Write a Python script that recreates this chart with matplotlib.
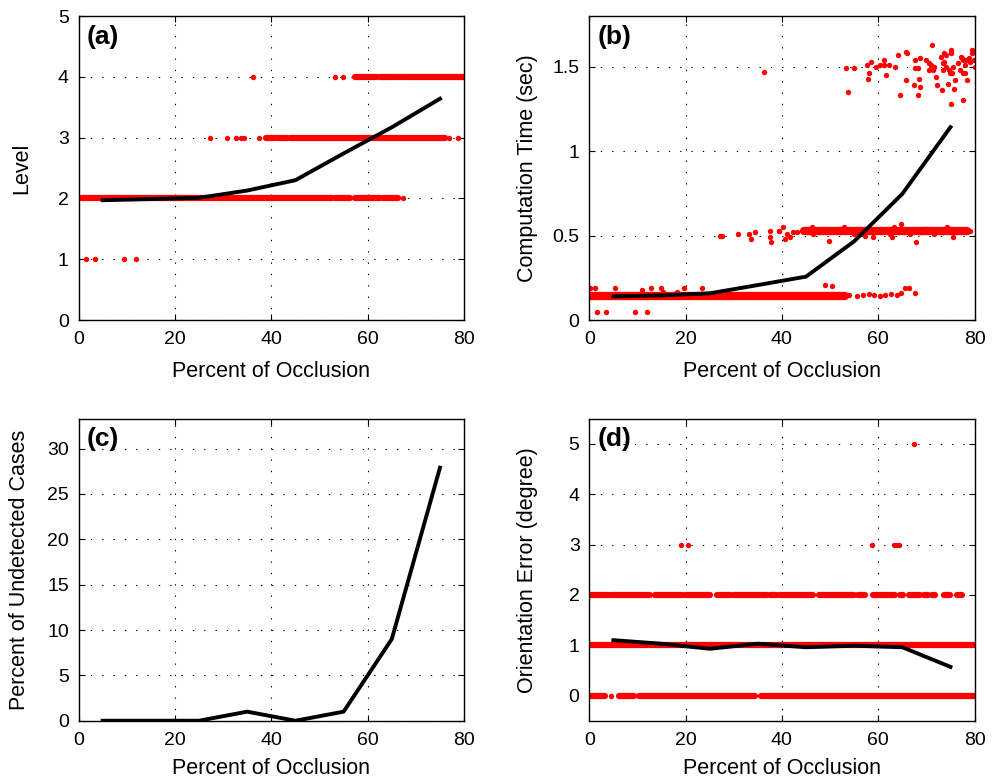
import numpy as np
import matplotlib
matplotlib.use('Agg')
import matplotlib.pyplot as plt

occlusion = [5, 15, 25, 35, 45, 55, 65, 75]
level_mean = [1.97, 1.99, 2.01, 2.13, 2.30, 2.74, 3.17, 3.64]
time_mean = [0.140, 0.146, 0.158, 0.207, 0.257, 0.466, 0.747, 1.142]
undetected = [0, 0, 0, 1.0, 0, 1.0, 9.0, 27.9]
orient_mean = [1.10, 1.03, 0.93, 1.03, 0.96, 0.99, 0.96, 0.57]

# (a) level: isolated dots and dense runs
level_dot_x = [1.6, 3.5, 9.5, 11.9, 67.3, 27.3, 30.8, 32.6, 33.7, 34.4, 37.5, 76.8, 78.8, 36.2, 53.2, 54.9]
level_dot_y = [1, 1, 1, 1, 2, 3, 3, 3, 3, 3, 3, 3, 3, 4, 4, 4]
level_run_y = [2, 2, 2, 2, 3, 3, 3, 4, 4, 4]
level_run_x0 = [0, 53.2, 57.3, 63.1, 39.0, 41.0, 43.9, 57.3, 62.6, 67.0]
level_run_x1 = [52.5, 56.3, 62.5, 66.3, 40.5, 43.2, 76.0, 62.0, 66.5, 80]

# (b) computation time
time_top_x = [53.3, 55.0, 53.7, 57.6, 58.5, 58.1, 57.8, 59.6, 60.4, 61.3, 61.3, 62.3, 61.7, 63.4, 64.2,
              65.7, 66.0, 64.6, 65.7, 67.6, 67.7, 68.2, 68.7, 68.4, 67.4, 68.6, 68.2, 70.0, 70.6, 71.1,
              70.9, 71.6, 71.4, 70.5, 72.0, 72.1, 73.0, 73.6, 74.1, 73.4, 73.7, 74.1, 73.4, 74.4, 73.2,
              74.7, 75.1, 75.2, 75.0, 75.4, 75.6, 75.9, 75.8, 75.2, 76.5, 77.2, 77.4, 77.7, 78.0, 77.0,
              77.5, 78.1, 78.5, 77.5, 78.8, 79.5, 79.5, 79.8, 80.0, 79.1, 78.2, 36.2]
time_top_y = [1.49, 1.49, 1.35, 1.51, 1.53, 1.46, 1.43, 1.50, 1.51, 1.54, 1.51, 1.51, 1.45, 1.50, 1.57,
              1.59, 1.58, 1.33, 1.42, 1.54, 1.49, 1.49, 1.55, 1.43, 1.39, 1.38, 1.33, 1.54, 1.52, 1.63,
              1.51, 1.50, 1.48, 1.48, 1.44, 1.39, 1.56, 1.58, 1.57, 1.52, 1.53, 1.50, 1.48, 1.40, 1.36,
              1.48, 1.60, 1.58, 1.46, 1.46, 1.50, 1.42, 1.37, 1.28, 1.52, 1.56, 1.55, 1.54, 1.51, 1.48,
              1.46, 1.46, 1.42, 1.30, 1.55, 1.60, 1.58, 1.54, 1.50, 1.53, 1.54, 1.47]
time_mid_x = [27.2, 27.5, 30.8, 33.1, 33.6, 34.4, 37.5, 37.6, 37.8, 39.3, 40.2, 39.4, 41.0, 40.7, 41.6,
              42.4, 43.1, 45.5, 46.2, 46.5, 47.9, 49.7, 49.3, 50.7, 52.1, 52.8, 53.5, 54.9, 56.2, 57.3,
              58.3, 59.0, 60.4, 61.8, 62.5, 63.2, 62.8, 64.8, 65.6, 66.6, 67.9, 68.7, 70.1, 71.5, 72.9,
              74.2, 75.3, 75.6, 77.0, 78.4, 79.1]
time_mid_y = [0.50, 0.50, 0.51, 0.51, 0.48, 0.52, 0.53, 0.49, 0.46, 0.53, 0.55, 0.53, 0.51, 0.48, 0.49,
              0.52, 0.52, 0.53, 0.55, 0.51, 0.52, 0.47, 0.53, 0.53, 0.54, 0.55, 0.53, 0.51, 0.53, 0.50,
              0.54, 0.49, 0.52, 0.53, 0.51, 0.55, 0.49, 0.57, 0.53, 0.51, 0.46, 0.52, 0.54, 0.51, 0.53,
              0.55, 0.53, 0.49, 0.53, 0.52, 0.53]
time_low_x = [1.5, 3.5, 9.5, 11.9, 0.2, 1.2, 5.3, 10.9, 12.8, 14.9, 19.7, 23.5, 18.2, 15.4, 49.0, 50.4,
              65.6, 66.3, 67.7, 54.0, 55.5, 56.8, 58.0, 59.2, 60.3, 61.5, 62.6, 63.8, 64.8]
time_low_y = [0.045, 0.045, 0.045, 0.045, 0.19, 0.19, 0.19, 0.178, 0.19, 0.19, 0.19, 0.19, 0.168, 0.168,
              0.21, 0.20, 0.19, 0.19, 0.16, 0.15, 0.145, 0.15, 0.155, 0.15, 0.145, 0.15, 0.155, 0.15, 0.16]
time_band_y = [0.145, 0.525]
time_band_x0 = [0, 44.5]
time_band_x1 = [53.0, 78.5]

# (d) orientation error
orient_dot_x = [4.6, 19.0, 20.4, 58.7, 63.2, 63.8, 64.4, 67.5]
orient_dot_y = [0, 3, 3, 3, 3, 3, 3, 5]
orient_run_y = [0, 0, 0, 0, 1, 2, 2, 2, 2, 2, 2, 2, 2, 2, 2, 2, 2, 2, 2, 2, 2, 2]
orient_run_x0 = [0, 6.1, 10.4, 35.6, 0, 0, 4.6, 13.6, 19.9, 26.5, 29.9, 37.5, 39.5, 47.6, 55.9, 59.0,
                 64.5, 66.3, 69.4, 71.1, 73.6, 76.3]
orient_run_x1 = [3.3, 9.3, 34.5, 80, 80, 4.0, 12.6, 19.2, 25.1, 29.2, 36.8, 38.9, 46.5, 54.9, 57.3, 63.5,
                 65.2, 68.7, 70.4, 71.8, 75.0, 77.4]


def style(ax, ylim, yticks, ylabel, tag, ylab_x, xlab_y=-0.135):
    ax.set_xlim(0, 80)
    ax.set_ylim(*ylim)
    ax.set_xticks([0, 20, 40, 60, 80])
    ax.set_yticks(yticks)
    ax.grid(True, color='black', linestyle=(0, (1.2, 9)), linewidth=0.8)
    ax.tick_params(direction='in', top=True, right=True, length=4, labelsize=14)
    ax.tick_params(axis='x', pad=8)
    ax.tick_params(axis='y', pad=7)
    ax.set_xlabel('Percent of Occlusion', fontsize=15.5)
    ax.set_ylabel(ylabel, fontsize=15.5)
    ax.xaxis.set_label_coords(0.5, xlab_y)
    ax.yaxis.set_label_coords(ylab_x, 0.5)
    ax.text(0.022, 0.972, tag, transform=ax.transAxes, va='top', ha='left',
            fontsize=19, fontweight='bold')
    for s in ax.spines.values():
        s.set_linewidth(1.0)


def runs(ax, ys, x0s, x1s, lw=4.5):
    for y, a, b in zip(ys, x0s, x1s):
        ax.plot([a, b], [y, y], color='red', linewidth=lw, solid_capstyle='round', zorder=2)


def main():
    plt.rcParams['font.family'] = ['Liberation Sans', 'DejaVu Sans']
    fig = plt.figure(figsize=(9.98, 7.79), dpi=100)
    ax_a = fig.add_axes([0.0787, 0.5892, 0.3863, 0.3902])
    ax_b = fig.add_axes([0.5905, 0.5892, 0.3860, 0.3902])
    ax_c = fig.add_axes([0.0787, 0.0748, 0.3863, 0.3877])
    ax_d = fig.add_axes([0.5905, 0.0748, 0.3860, 0.3877])

    # (a)
    runs(ax_a, level_run_y, level_run_x0, level_run_x1)
    ax_a.scatter(level_dot_x, level_dot_y, s=15, color='red', linewidths=0, zorder=2)
    ax_a.plot(occlusion, level_mean, color='black', linewidth=2.8, zorder=3)
    style(ax_a, (0, 5), [0, 1, 2, 3, 4, 5], 'Level', '(a)', -0.121)

    # (b)
    runs(ax_b, time_band_y, time_band_x0, time_band_x1, lw=6)
    ax_b.scatter(time_top_x, time_top_y, s=15, color='red', linewidths=0, zorder=2)
    ax_b.scatter(time_mid_x, time_mid_y, s=15, color='red', linewidths=0, zorder=2)
    ax_b.scatter(time_low_x, time_low_y, s=15, color='red', linewidths=0, zorder=2)
    ax_b.plot(occlusion, time_mean, color='black', linewidth=2.8, zorder=3)
    style(ax_b, (0, 1.8), [0, 0.5, 1, 1.5], 'Computation Time (sec)', '(b)', -0.133)
    ax_b.set_yticklabels(['0', '0.5', '1', '1.5'])

    # (c)
    ax_c.plot(occlusion, undetected, color='black', linewidth=2.8, zorder=3)
    style(ax_c, (0, 33.3), [0, 5, 10, 15, 20, 25, 30], 'Percent of Undetected Cases', '(c)', -0.125,
          xlab_y=-0.124)

    # (d)
    runs(ax_d, orient_run_y, orient_run_x0, orient_run_x1)
    ax_d.scatter(orient_dot_x, orient_dot_y, s=15, color='red', linewidths=0, zorder=2)
    ax_d.plot(occlusion, orient_mean, color='black', linewidth=2.8, zorder=3)
    style(ax_d, (-0.5, 5.5), [0, 1, 2, 3, 4, 5], 'Orientation Error (degree)', '(d)', -0.133,
          xlab_y=-0.124)

    fig.savefig('out.png', dpi=100)


if __name__ == '__main__':
    main()
